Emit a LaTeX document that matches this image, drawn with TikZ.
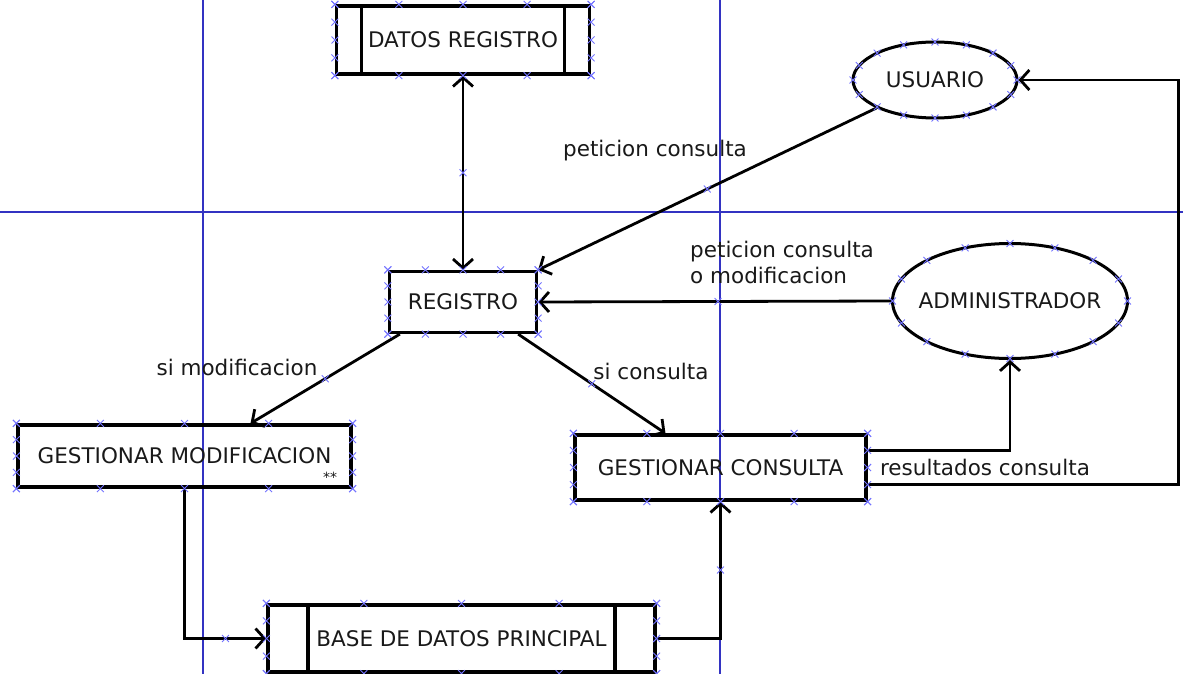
\documentclass[tikz,border=0pt]{standalone}
\usepackage{fontspec}
\setmainfont{DejaVu Sans}
\usetikzlibrary{arrows.meta,positioning,shapes.geometric,shapes.misc,calc}

\begin{document}
\begin{tikzpicture}[x=1pt, y=-1pt,
  every node/.style={font=\fontsize{21.5}{26}\selectfont, text=black!90},
  proc/.style={draw, line width=3.2pt, inner sep=0pt},
  store/.style={proc, path picture={
      \draw[line width=3.2pt]
        ([xshift=#1]path picture bounding box.north west) -- ([xshift=#1]path picture bounding box.south west)
        ([xshift=-#1]path picture bounding box.north east) -- ([xshift=-#1]path picture bounding box.south east);}},
  actor/.style={draw, ellipse, line width=3pt, inner xsep=-30pt, inner ysep=0pt},
  arr/.style={line width=2.8pt, -{Straight Barb[length=9pt,width=20pt]}},
  lbl/.style={inner sep=0pt},
  hnd/.style={draw=blue!55, cross out, line width=0.9pt, inner sep=0pt, minimum size=6pt},
  guide/.style={draw=blue!70!black!80, line width=1.3pt}]
  \useasboundingbox (0,0) rectangle (1183,674);
  % guide lines
  \draw[guide] (203,0) -- (203,674);
  \draw[guide] (720,0) -- (720,674);
  \draw[guide] (0,212) -- (1183,212);

  % nodes
  \node[store=25pt, minimum width=253pt, minimum height=68pt] (dr) at (463,40) {DATOS REGISTRO};
  \node[proc, minimum width=147pt, minimum height=61pt] (reg) at (463,302) {REGISTRO};
  \node[actor, minimum width=164pt, minimum height=76pt] (usr) at (935,80) {USUARIO};
  \node[actor, minimum width=235pt, minimum height=115pt] (adm) at (1010,301) {ADMINISTRADOR};
  \node[proc, minimum width=333pt, minimum height=62pt] (gm) at (184.5,456) {GESTIONAR MODIFICACION};
  \node[proc, minimum width=291pt, minimum height=65pt] (gc) at (720.5,467.5) {GESTIONAR CONSULTA};
  \node[store=40pt, minimum width=387pt, minimum height=67pt] (base) at (461.5,638.5) {BASE DE DATOS PRINCIPAL};
  \node[lbl, font=\fontsize{14}{16}\selectfont] (ast) at (330,477) {**};
  \coordinate (rc) at ($(gc.south east)+(311,-17)$);

  % connectors
  \draw[arr, {Straight Barb[length=9pt,width=20pt]}-{Straight Barb[length=9pt,width=20pt]}] (dr.south) -- node[hnd]{} (reg.north);
  \draw[arr] (usr) -- node[hnd]{} (reg.north east);
  \draw[arr] (adm.west) -- node[hnd, pos=.49]{} (reg.east);
  \draw[arr] ([xshift=12pt]reg.south west) -- node[hnd]{} ([xshift=66pt]gm.north);
  \draw[arr] ([xshift=-20pt]reg.south east) -- node[hnd]{} ([xshift=-55pt]gc.north);
  \draw[arr] ([yshift=-17pt]gc.north east) -| (adm.south);
  \draw[arr] ([yshift=17pt]gc.south east) -- (rc) |- (usr.east);
  \draw[arr] (gm.south) |- (base.west);
  \draw[arr] (base.east) -| (gc.south);

  % labels
  \node[lbl] (l1) at (655,151) {peticion consulta};
  \node[lbl, align=left, anchor=north west] (l2) at (690,241) {peticion consulta\\o modificacion};
  \node[lbl] (l3) at (237,367) {si modificacion};
  \node[lbl] (l4) at (651,371) {si consulta};
  \node[lbl] (l5) at (985,467) {resultados consulta};

  % selection handles
  \foreach \n in {dr,reg,gm,gc,base}
    \foreach \t in {0,0.25,0.5,0.75,1} {
      \node[hnd] at ($(\n.north west)!\t!(\n.north east)$) {};
      \node[hnd] at ($(\n.south west)!\t!(\n.south east)$) {};
      \node[hnd] at ($(\n.north west)!\t!(\n.south west)$) {};
      \node[hnd] at ($(\n.north east)!\t!(\n.south east)$) {};
    }
  \foreach \a in {0,22.5,...,337.5} {
    \node[hnd] at ($(usr.center)+({82*cos(\a)},{38*sin(\a)})$) {};
    \node[hnd] at ($(adm.center)+({117.5*cos(\a)},{57.5*sin(\a)})$) {};
  }
  \node[hnd] at ($(gm.south|-base.west)!.5!(base.west)$) {};
  \node[hnd] at ($(gc.south|-base.east)!.5!(gc.south)$) {};
\end{tikzpicture}
\end{document}
